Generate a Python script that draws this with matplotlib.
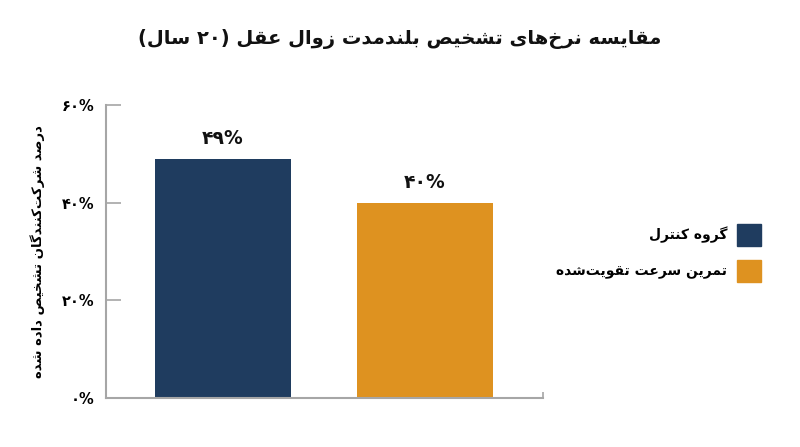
import re
import matplotlib
matplotlib.use('Agg')
import matplotlib.pyplot as plt
from matplotlib.patches import Patch

# data
title = 'مقایسه نرخ‌های تشخیص بلندمدت زوال عقل (۲۰ سال)'
ylabel = 'درصد شرکت‌کنندگان تشخیص داده شده'
groups = ['گروه کنترل', 'تمرین سرعت تقویت‌شده']
rates = [49, 40]
yticks = [0, 20, 40, 60]
colors = ['#1f3c5f', '#de9220']

# arabic letter forms: isolated, final, initial, medial (None = does not join forward)
FORMS = {
    'ا': ('\uFE8D', '\uFE8E', None, None),
    'ب': ('\uFE8F', '\uFE90', '\uFE91', '\uFE92'),
    'ت': ('\uFE95', '\uFE96', '\uFE97', '\uFE98'),
    'خ': ('\uFEA5', '\uFEA6', '\uFEA7', '\uFEA8'),
    'د': ('\uFEA9', '\uFEAA', None, None),
    'ر': ('\uFEAD', '\uFEAE', None, None),
    'ز': ('\uFEAF', '\uFEB0', None, None),
    'س': ('\uFEB1', '\uFEB2', '\uFEB3', '\uFEB4'),
    'ش': ('\uFEB5', '\uFEB6', '\uFEB7', '\uFEB8'),
    'ص': ('\uFEB9', '\uFEBA', '\uFEBB', '\uFEBC'),
    'ع': ('\uFEC9', '\uFECA', '\uFECB', '\uFECC'),
    'ق': ('\uFED5', '\uFED6', '\uFED7', '\uFED8'),
    'ل': ('\uFEDD', '\uFEDE', '\uFEDF', '\uFEE0'),
    'م': ('\uFEE1', '\uFEE2', '\uFEE3', '\uFEE4'),
    'ن': ('\uFEE5', '\uFEE6', '\uFEE7', '\uFEE8'),
    'ه': ('\uFEE9', '\uFEEA', '\uFEEB', '\uFEEC'),
    'و': ('\uFEED', '\uFEEE', None, None),
    'ی': ('\uFBFC', '\uFBFD', '\uFBFE', '\uFBFF'),
    'ک': ('\uFB8E', '\uFB8F', '\uFB90', '\uFB91'),
    'گ': ('\uFB92', '\uFB93', '\uFB94', '\uFB95'),
}


def fa(text):
    # join letters, then put everything in visual (left to right) order
    out = []
    for i, ch in enumerate(text):
        if ch not in FORMS:
            out.append(ch)
            continue
        prev = text[i - 1] if i > 0 else ''
        nxt = text[i + 1] if i + 1 < len(text) else ''
        jp = prev in FORMS and FORMS[prev][2] is not None
        jn = nxt in FORMS and FORMS[ch][2] is not None
        iso, fin, ini, med = FORMS[ch]
        if jp and jn:
            out.append(med)
        elif jp:
            out.append(fin)
        elif jn:
            out.append(ini)
        else:
            out.append(iso)
    s = ''.join(out).replace('\u200c', '')[::-1]
    s = re.sub(r'[0-9۰-۹%]+', lambda m: m.group(0)[::-1], s)
    return s.translate(str.maketrans('()', ')('))


def fa_num(n):
    return str(n).translate(str.maketrans('0123456789', '۰۱۲۳۴۵۶۷۸۹')) + '%'


plt.rcParams['font.family'] = ['DejaVu Sans']
plt.rcParams['font.weight'] = 'bold'

fig = plt.figure(figsize=(8, 4.47), dpi=100)
ax = fig.add_axes([0.1325, 0.1096, 0.5463, 0.6555])

x = list(range(len(groups)))
bars = ax.bar(x, rates, width=0.675, color=colors)
for b, v in zip(bars, rates):
    ax.annotate(fa_num(v), (b.get_x() + b.get_width() / 2, v), xytext=(0, 8),
                textcoords='offset points', ha='center', va='bottom',
                fontsize=13.5, fontweight='bold', color='#111111')

ax.set_xlim(-0.579, 1.584)
ax.set_ylim(0, 60)
ax.set_yticks(yticks)
ax.set_yticklabels([fa_num(t) for t in yticks], fontsize=10.5, fontweight='bold')
ax.tick_params(axis='y', direction='in', length=11, width=1.2, color='#a6a6a6', pad=8)
ax.set_xticks([1.584])
ax.set_xticklabels([''])
ax.tick_params(axis='x', direction='in', length=4, width=1.2, color='#a6a6a6')
for side in ['top', 'right']:
    ax.spines[side].set_visible(False)
for side in ['left', 'bottom']:
    ax.spines[side].set_color('#a6a6a6')
    ax.spines[side].set_linewidth(1.5)

ax.set_ylabel(fa(ylabel), fontsize=9.5, fontweight='bold', labelpad=12)
fig.suptitle(fa(title), x=0.5, y=0.935, fontsize=14, fontweight='bold', color='#111111')

handles = [Patch(color=c) for c in colors]
fig.legend(handles, [fa(g) for g in groups], loc='center right',
           bbox_to_anchor=(768 / 800, 1 - 253 / 447), frameon=False, markerfirst=False,
           fontsize=10, handlelength=1.75, handleheight=2.15, labelspacing=0.95,
           handletextpad=0.7, borderpad=0)

fig.savefig('out.png', dpi=100)
